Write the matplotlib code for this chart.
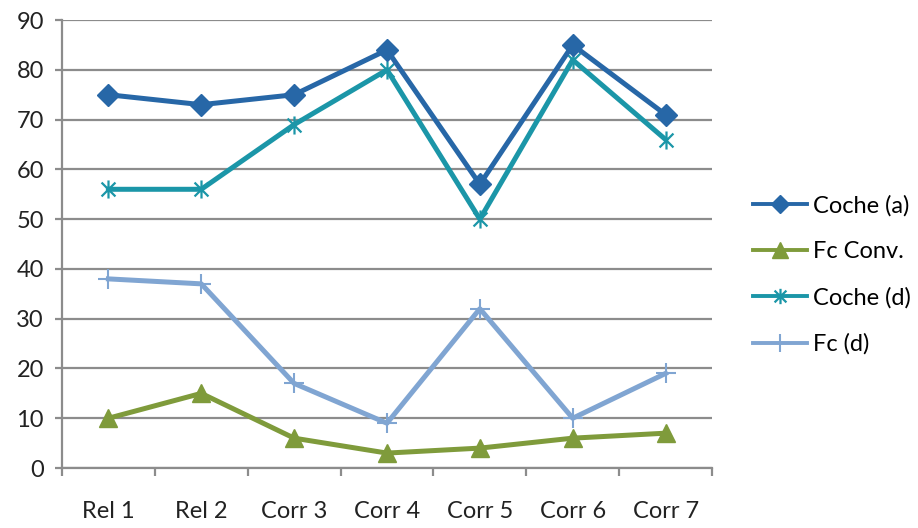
import numpy as np
import matplotlib
matplotlib.use('Agg')
import matplotlib.pyplot as plt
from matplotlib.path import Path

# data per route
categories = ['Rel 1', 'Rel 2', 'Corr 3', 'Corr 4', 'Corr 5', 'Corr 6', 'Corr 7']
coche_a = [75, 73, 75, 84, 57, 85, 71]
fc_conv = [10, 15, 6, 3, 4, 6, 7]
coche_d = [56, 56, 69, 80, 50, 82, 66]
fc_d = [38, 37, 17, 9, 32, 10, 19]

plt.rcParams['font.family'] = ['Lato', 'DejaVu Sans']

# star marker: x plus a vertical bar
star = Path([(-1, -1), (1, 1), (-1, 1), (1, -1), (0, -1.3), (0, 1.3)],
            [Path.MOVETO, Path.LINETO, Path.MOVETO, Path.LINETO, Path.MOVETO, Path.LINETO])

fig = plt.figure(figsize=(9.18, 5.28), dpi=100)
ax = fig.add_axes([0.0675, 0.1136, 0.7081, 0.8484])

x = np.arange(len(categories))
lw = 3.6
ax.plot(x, coche_a, color='#2767A7', lw=lw, marker='D', ms=11, label='Coche (a)', zorder=5)
ax.plot(x, fc_conv, color='#7F9B3B', lw=lw, marker='^', ms=13, label='Fc Conv.', zorder=4)
ax.plot(x, coche_d, color='#1B96A8', lw=lw, marker=star, ms=13, mew=1.6, label='Coche (d)', zorder=4)
ax.plot(x, fc_d, color='#80A5D2', lw=lw, marker='+', ms=15, mew=1.5, label='Fc (d)', zorder=3)

ax.set_xlim(-0.5, len(categories) - 0.5)
ax.set_ylim(0, 90)
ax.set_yticks(np.arange(0, 91, 10))
ax.set_xticks(x)
ax.set_xticklabels(categories)
ax.set_xticks(np.arange(-0.5, len(categories), 1), minor=True)

grid_c = '#8C8C8C'
ax.grid(axis='y', color=grid_c, lw=1.6)
ax.set_axisbelow(True)
for s in ['top', 'right']:
    ax.spines[s].set_visible(False)
for s in ['left', 'bottom']:
    ax.spines[s].set_color(grid_c)
    ax.spines[s].set_linewidth(1.6)

ax.tick_params(axis='y', length=5, width=1.6, color=grid_c, labelsize=17, pad=8, labelcolor='#222222')
ax.tick_params(axis='x', which='major', length=0, labelsize=17, pad=24, labelcolor='#222222')
ax.tick_params(axis='x', which='minor', length=6, width=1.6, color=grid_c)

leg = ax.legend(loc='center left', bbox_to_anchor=(753 / 918, 1 - 275 / 528),
                bbox_transform=fig.transFigure, frameon=False, fontsize=17,
                handlelength=2.3, labelspacing=1.05, handletextpad=0.25,
                borderpad=0, borderaxespad=0)
for h in leg.get_lines():
    h.set_linewidth(2.8)
    h.set_markersize(h.get_markersize() * 0.85)

fig.savefig('out.png', dpi=100)
